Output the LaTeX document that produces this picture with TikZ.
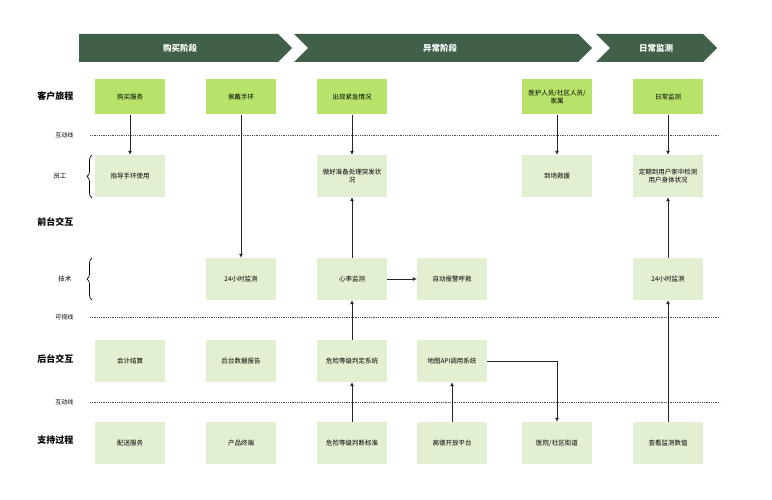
\documentclass[tikz,border=0pt]{standalone}
\usepackage{fontspec}
\setmainfont{Noto Sans CJK SC}
\usetikzlibrary{arrows.meta,decorations.pathreplacing}

\definecolor{bannergreen}{HTML}{41604A}
\definecolor{custgreen}{HTML}{B7E36A}
\definecolor{boxgreen}{HTML}{E2EFD0}

\tikzset{
  cust/.style={fill=custgreen, minimum width=70pt, minimum height=35pt, text width=66pt, align=center, font=\fontsize{6.5}{8.5}\selectfont, inner sep=1pt},
  act/.style={fill=boxgreen, minimum width=70pt, minimum height=42pt, text width=66pt, align=center, font=\fontsize{6.5}{8.5}\selectfont, inner sep=1pt},
  lane/.style={font=\bfseries\fontsize{9}{10}\selectfont, anchor=east},
  sep/.style={font=\fontsize{6}{7}\selectfont, anchor=east},
  dotline/.style={densely dotted, line width=0.8pt, black!70},
  flow/.style={-{Latex[length=4pt,width=4pt]}, line width=0.7pt, black!85},
  banner/.style={fill=bannergreen, draw=none},
  brace/.style={decorate, decoration={brace, amplitude=5pt}, line width=0.7pt}
}

\begin{document}
\begin{tikzpicture}[x=1pt, y=-1pt]
  \useasboundingbox[fill=white] (0,0) rectangle (772,500);

  % stage banners
  \fill[banner] (79,34) -- (278,34) -- (292,48) -- (278,62) -- (79,62) -- cycle;
  \fill[banner] (294,34) -- (578,34) -- (592,48) -- (578,62) -- (294,62) -- (308,48) -- cycle;
  \fill[banner] (596,34) -- (703,34) -- (717,48) -- (703,62) -- (596,62) -- (610,48) -- cycle;
  \node[text=white, font=\bfseries\fontsize{8.5}{9}\selectfont] (buy) at (180,48) {购买阶段};
  \node[text=white, font=\bfseries\fontsize{8.5}{9}\selectfont] (abn) at (440,48) {异常阶段};
  \node[text=white, font=\bfseries\fontsize{8.5}{9}\selectfont] (day) at (656,48) {日常监测};

  % lanes
  \node[lane] (lcust) at (77,96) {客户旅程};
  \node[sep] (lint1) at (77,135) {互动线};
  \node[lane, font=\fontsize{6.5}{8}\selectfont] (lstaff) at (70,176) {员工};
  \node[lane] (lfront) at (77,222) {前台交互};
  \node[lane, font=\fontsize{6.5}{8}\selectfont] (ltech) at (75,279) {技术};
  \node[sep] (lvis) at (77,317) {可视线};
  \node[lane] (lback) at (77,359) {后台交互};
  \node[sep] (lint2) at (77,402) {互动线};
  \node[lane] (lsup) at (77,440) {支持过程};

  \draw[brace] (92,198) -- (92,155);
  \draw[brace] (92,300) -- (92,258);

  \draw[dotline] (90,135) -- (720,135);
  \draw[dotline] (90,317) -- (720,317);
  \draw[dotline] (90,402) -- (720,402);

  % customer journey
  \node[cust] (c1) at (130,97) {购买服务};
  \node[cust] (c2) at (241,97) {佩戴手环};
  \node[cust] (c3) at (352,97) {出现紧急情况};
  \node[cust] (c5) at (557,97) {医护人员/社区人员/\\家属};
  \node[cust] (c6) at (668,97) {日常监测};

  % staff
  \node[act] (s1) at (130,176) {指导手环使用};
  \node[act] (s3) at (352,176) {做好准备处理突发状\\况};
  \node[act] (s5) at (557,176) {到场救援};
  \node[act] (s6) at (668,176) {定期到用户家中检测\\用户身体状况};

  % technology
  \node[act] (t2) at (241,279) {24小时监测};
  \node[act] (t3) at (352,279) {心率监测};
  \node[act] (t4) at (452,279) {自动报警呼救};
  \node[act] (t6) at (668,279) {24小时监测};

  % backstage
  \node[act] (b1) at (130,361) {会计结算};
  \node[act] (b2) at (241,361) {后台数据报告};
  \node[act] (b3) at (352,361) {危险等级判定系统};
  \node[act] (b4) at (452,361) {地图API调用系统};

  % support
  \node[act] (p1) at (130,443) {配送服务};
  \node[act] (p2) at (241,443) {产品终端};
  \node[act] (p3) at (352,443) {危险等级判断标准};
  \node[act] (p4) at (452,443) {高德开放平台};
  \node[act] (p5) at (557,443) {医院/社区街道};
  \node[act] (p6) at (668,443) {查看监测数值};

  % flows
  \draw[flow] (c1) -- (s1);
  \draw[flow] (c2) -- (t2);
  \draw[flow] (c3) -- (s3);
  \draw[flow] (c5) -- (s5);
  \draw[flow] (c6) -- (s6);
  \draw[flow] (t3) -- (s3);
  \draw[flow] (b3) -- (t3);
  \draw[flow] (p3) -- (b3);
  \draw[flow] (t3) -- (t4);
  \draw[flow] (p4) -- (b4);
  \draw[flow] (b4.east) -| (p5.north);
  \draw[flow] (t6) -- (s6);
  \draw[flow] (p6) -- (t6);
\end{tikzpicture}
\end{document}
